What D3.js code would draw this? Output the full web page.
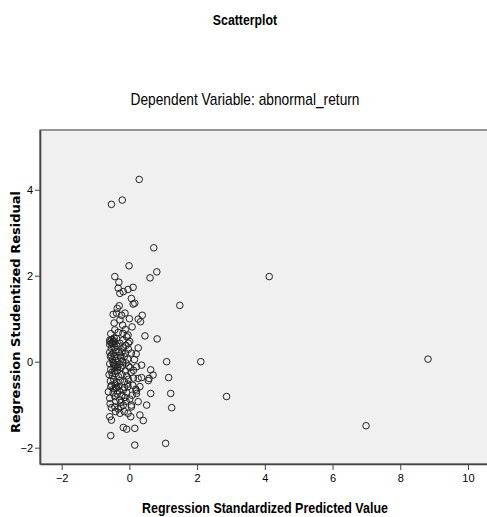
<!DOCTYPE html>
<html>
<head>
<meta charset="utf-8">
<script src="https://cdn.jsdelivr.net/npm/d3@7"></script>
<style>
  body { margin: 0; background: #fff; }
  text { fill: #000; }
  .narrow { font-family: "Liberation Sans Narrow", "Arial Narrow", "Liberation Sans", sans-serif; }
</style>
</head>
<body>
<svg id="chart" width="487" height="517"></svg>
<script>
// chart values
let title = 'Scatterplot';
let subtitle = 'Dependent Variable: abnormal_return';
let xTitle = 'Regression Standardized Predicted Value';
let yTitle = 'Regression Studentized Residual';
let xTicks = [-2, 0, 2, 4, 6, 8, 10];
let yTicks = [-2, 0, 2, 4];

// standardized predicted values (x) and studentized residuals (y)
let predicted = [
  0.29, -0.53, -0.21, 0.72, -0.01, 0.81, 0.61, -0.43, -0.31, -0.33,
  -0.28, -0.18, -0.04, 0.11, 0.06, 0.11, 0.16, 1.49, -0.30, -0.36,
  4.13, -0.48, -0.38, -0.23, -0.13, 0.38, 0.33, 0.26, -0.20, -0.28,
  0.08, -0.43, -0.33, -0.19, -0.04, 0.46, 0.82, -0.58, -0.48, -0.38,
  -0.28, -0.19, -0.08, -0.03, 0.01, -0.10, 0.26, 0.06, 0.20, -0.53,
  -0.43, -0.31, -0.18, -0.03, -0.33, -0.43, -0.56, 1.10, 2.11, 8.82,
  2.87, 6.99, 0.36, 0.21, 0.02, 0.63, 0.70, 0.58, 0.56, 0.36,
  0.26, 1.16, 0.12, -0.03, 0.31, 0.19, 0.21, 0.63, 1.22, 0.26,
  0.51, 1.25, 0.06, 0.31, 0.41, 0.04, -0.58, -0.53, -0.18, -0.08,
  0.16, -0.55, 0.16, 1.07, -0.53, -0.43, -0.33, -0.25, -0.41, -0.28,
  -0.15, -0.04, -0.55, -0.41, -0.33, -0.18, -0.04, 0.21, -0.58, -0.43,
  -0.28, -0.13, 0.01, 0.06, -0.18, -0.58, -0.48, -0.40, -0.30, -0.20,
  -0.10, -0.55, -0.45, -0.35, -0.25, -0.12, -0.60, -0.50, -0.42, -0.32,
  -0.22, -0.08, -0.56, -0.46, -0.37, -0.27, -0.15, -0.05, -0.52, -0.50,
  -0.44, -0.36, -0.27, -0.15, -0.05, -0.58, -0.48, -0.38, -0.22, -0.12,
  0.05, -0.52, -0.58, -0.45, -0.62, -0.48, -0.36, -0.22, -0.08, 0.08,
  -0.40, -0.25, -0.10, -0.57, 0.10, 0.12, 0.15, -0.55, -0.12, 0.00,
  -0.45, -0.57, -0.52, -0.50, -0.45, -0.47, -0.43, -0.40, -0.42, -0.38,
  -0.52, -0.35, -0.20, -0.46, -0.30, -0.14, -0.54, -0.40, -0.26, -0.02
];
let residual = [
  4.24, 3.66, 3.76, 2.65, 2.23, 2.09, 1.95, 1.98, 1.85, 1.71,
  1.59, 1.63, 1.68, 1.73, 1.47, 1.34, 1.36, 1.31, 1.30, 1.24,
  1.98, 1.10, 1.13, 1.08, 1.13, 1.08, 0.93, 0.99, 0.85, 0.97,
  0.81, 0.74, 0.68, 0.66, 0.62, 0.60, 0.53, 0.50, 0.47, 0.54,
  0.43, 0.50, 0.58, 0.43, 0.47, 0.38, 0.32, 0.20, 0.18, 0.31,
  0.33, 0.35, 0.32, 0.29, 0.23, 0.12, 0.12, 0.00, 0.00, 0.06,
  -0.81, -1.49, -0.08, -0.12, -0.14, -0.19, -0.31, -0.39, -0.44, -0.37,
  -0.39, -0.37, -0.38, -0.41, -0.58, -0.64, -0.68, -0.74, -0.74, -0.93,
  -1.01, -1.07, -1.05, -1.24, -1.37, -1.28, -1.28, -1.36, -1.53, -1.57,
  -1.55, -1.72, -1.94, -1.90, -1.07, -1.05, -1.10, -1.05, -1.16, -1.20,
  -1.16, -1.20, -0.58, -0.62, -0.58, -0.66, -0.58, -0.74, -0.85, -0.81,
  -0.89, -0.83, -0.87, -1.01, -1.01, -0.05, -0.02, 0.03, -0.06, 0.01,
  -0.03, -0.18, -0.15, -0.20, -0.14, -0.22, -0.30, -0.33, -0.28, -0.35,
  -0.30, -0.33, -0.45, -0.42, -0.48, -0.44, -0.47, -0.52, -0.55, 0.05,
  -0.08, 0.08, 0.10, 0.12, 0.06, 0.22, 0.20, 0.38, 0.22, 0.20,
  -0.25, 0.42, 0.40, 0.55, -0.70, -0.72, -0.75, -0.78, -0.72, -0.78,
  -0.92, -0.95, -0.92, -0.98, -0.55, -0.20, 0.05, 0.65, 0.75, 1.00,
  0.90, 0.46, 0.52, 0.44, 0.48, -0.05, -0.22, -0.10, -0.52, -0.60,
  -0.25, -0.12, -0.08, -0.63, -0.68, -0.60, 0.15, 0.28, 0.15, -0.10
];

let svg = d3.select('#chart');
let margin = { top: 130, right: -4, bottom: 53, left: 40 };
let width = 487 - margin.left - margin.right;
let height = 517 - margin.top - margin.bottom;

let x = d3.scaleLinear()
  .domain([-2.64, 10.68])
  .range([0, width]);

let y = d3.scaleLinear()
  .domain([-2.38, 5.39])
  .range([height, 0]);

// narrow text: no Arial Narrow here, so squeeze Liberation Sans horizontally
function narrowText (cx, cy, size, weight, squeeze, str) {
  return svg.append('text')
    .attr('class', 'narrow')
    .attr('transform', 'translate(' + cx + ',' + cy + ')scale(' + squeeze + ',1)')
    .attr('text-anchor', 'middle')
    .style('font-size', size + 'px')
    .style('font-weight', weight)
    .text(str);
}

narrowText(245, 25, 14.5, 'bold', 0.85, title);
narrowText(245, 105, 16, 'normal', 0.86, subtitle);

let g = svg.append('g').attr('transform', 'translate(' + margin.left + ',' + margin.top + ')');

// plot area
g.append('rect')
  .attr('width', width)
  .attr('height', height)
  .attr('fill', '#f0f0f0')
  .attr('stroke', '#555')
  .attr('stroke-width', 1.2);

// axes
let xAxis = g.append('g')
  .attr('transform', 'translate(0,' + height + ')')
  .call(d3.axisBottom(x).tickValues(xTicks).tickSize(6).tickSizeOuter(0).tickPadding(4).tickFormat(d3.format('d')));

let yAxis = g.append('g')
  .call(d3.axisLeft(y).tickValues(yTicks).tickSize(5).tickSizeOuter(0).tickPadding(2).tickFormat(d3.format('d')));

[xAxis, yAxis].forEach(function (a) {
  a.select('.domain').attr('stroke', '#444').attr('stroke-width', 1.6);
  a.selectAll('.tick line').attr('stroke', '#444');
  a.selectAll('.tick text')
    .style('font-family', '"Liberation Sans Narrow", "Arial Narrow", "Liberation Sans", sans-serif')
    .style('font-size', '11px')
    .attr('fill', '#000');
});
yAxis.selectAll('.tick text').attr('dy', '0.35em');

// points
g.append('g')
  .selectAll('circle')
  .data(predicted)
  .enter().append('circle')
  .attr('cx', function (d) { return x(d); })
  .attr('cy', function (d, i) { return y(residual[i]); })
  .attr('r', 3.3)
  .attr('fill', 'none')
  .attr('stroke', '#222')
  .attr('stroke-width', 1);

// axis titles
narrowText(265, 513, 14.5, 'bold', 0.86, xTitle);

svg.append('text')
  .attr('transform', 'translate(19.5,' + 312 + ')rotate(-90)')
  .attr('text-anchor', 'middle')
  .style('font-family', '"DejaVu Sans", Verdana, sans-serif')
  .style('font-size', '13px')
  .style('font-weight', 'bold')
  .text(yTitle);
</script>
</body>
</html>
